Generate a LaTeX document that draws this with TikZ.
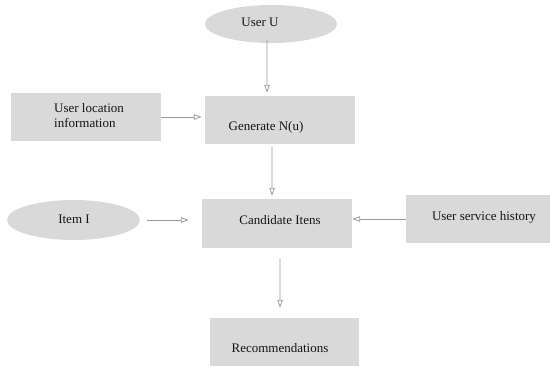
\documentclass[tikz,border=0pt]{standalone}
\usepackage{fontspec}
\setmainfont{Liberation Serif}
\usetikzlibrary{arrows.meta,shapes.geometric}
\definecolor{boxgray}{HTML}{D9D9D9}
\definecolor{arrgray}{HTML}{9A9A9A}
\tikzset{
  box/.style={draw=none,fill=boxgray,rectangle,inner sep=0pt},
  oval/.style={draw=none,fill=boxgray,ellipse,inner sep=0pt},
  lbl/.style={inner sep=0pt,font=\fontsize{13bp}{15bp}\selectfont,text=black!92},
  arr/.style={draw=arrgray,line width=0.8bp,-{Triangle[open,length=8bp,width=5.5bp]}}
}
\begin{document}
\begin{tikzpicture}[x=1bp,y=-1bp]
\useasboundingbox (0,0) rectangle (550,366);
% shapes
\node[oval,minimum width=132bp,minimum height=38bp] (uu) at (271,24) {};
\node[box,minimum width=150bp,minimum height=48bp] (gen) at (280,120) {};
\node[box,minimum width=150bp,minimum height=48bp] (loc) at (86,117) {};
\node[oval,minimum width=133bp,minimum height=40bp] (item) at (73.5,220) {};
\node[box,minimum width=150bp,minimum height=49bp] (cand) at (277,223.5) {};
\node[box,minimum width=145bp,minimum height=48bp] (hist) at (478.5,219) {};
\node[box,minimum width=149bp,minimum height=48bp] (rec) at (284.5,342) {};
% texts
\node[lbl] (tuu) at (260,22) {User U};
\node[lbl] (tgen) at (266,127) {Generate N(u)};
\node[lbl,align=left,anchor=west,font=\fontsize{13bp}{15.5bp}\selectfont] (tloc) at (54,115.5) {User location\\information};
\node[lbl] (titem) at (74,219) {Item I};
\node[lbl] (tcand) at (280,220) {Candidate Itens};
\node[lbl] (thist) at (484,217) {User service history};
\node[lbl] (trec) at (280,348) {Recommendations};
% connectors
\draw[arr,shorten <=-3bp,shorten >=3bp] ([xshift=-4bp]uu.south) -- ([xshift=-13bp]gen.north);
\draw[arr,shorten >=3bp] (loc.east) -- (loc.east -| gen.west);
\draw[arr,shorten <=3bp,shorten >=3bp] ([xshift=-8bp]gen.south) -- ([xshift=-5bp]cand.north);
\draw[arr,shorten <=7bp,shorten >=13bp] (item.east) -- (item.east -| cand.west);
\draw[arr] (hist.west) -- (hist.west -| cand.east);
\draw[arr,shorten <=10bp,shorten >=10bp] ([xshift=3bp]cand.south) -- ([xshift=-4.5bp]rec.north);
\end{tikzpicture}
\end{document}
